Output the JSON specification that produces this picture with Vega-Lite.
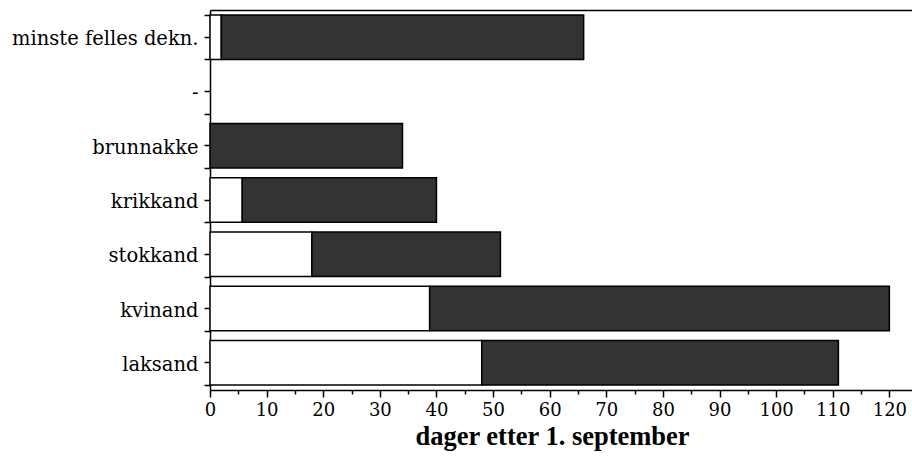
{
  "$schema": "https://vega.github.io/schema/vega-lite/v6.json",
  "autosize": "none",
  "width": 702,
  "height": 380,
  "padding": {"left": 210, "top": 10, "right": 0, "bottom": 69},
  "background": "white",
  "config": {
    "view": {"stroke": null},
    "font": "Liberation Serif",
    "axis": {"domainColor": "black", "tickColor": "black", "labelColor": "black", "titleColor": "black", "grid": false, "labelFont": "Liberation Serif", "titleFont": "Liberation Serif", "domainWidth": 1.5, "tickWidth": 1.5}
  },
  "data": {
    "values": [
      {"art": "minste felles dekn.", "start": 0, "end": 2, "type": "white"},
      {"art": "minste felles dekn.", "start": 2, "end": 66, "type": "hatched"},
      {"art": "brunnakke", "start": 0, "end": 34, "type": "hatched"},
      {"art": "krikkand", "start": 0, "end": 5.7, "type": "white"},
      {"art": "krikkand", "start": 5.7, "end": 40, "type": "hatched"},
      {"art": "stokkand", "start": 0, "end": 18, "type": "white"},
      {"art": "stokkand", "start": 18, "end": 51.3, "type": "hatched"},
      {"art": "kvinand", "start": 0, "end": 38.8, "type": "white"},
      {"art": "kvinand", "start": 38.8, "end": 120, "type": "hatched"},
      {"art": "laksand", "start": 0, "end": 48, "type": "white"},
      {"art": "laksand", "start": 48, "end": 111, "type": "hatched"}
    ]
  },
  "layer": [
    {
      "transform": [{"filter": "datum.type === 'white'"}],
      "mark": {"type": "bar", "fill": "white", "stroke": "black", "strokeWidth": 1.5},
      "encoding": {
        "x": {
          "field": "start", "type": "quantitative",
          "scale": {"domain": [0, 124], "nice": false, "zero": true},
          "axis": {
            "orient": "bottom",
            "title": "dager etter 1. september",
            "titleFontSize": 26.5, "titleFontWeight": "bold", "titlePadding": 4, "titleX": 342,
            "values": [0,5,10,15,20,25,30,35,40,45,50,55,60,65,70,75,80,85,90,95,100,105,110,115,120],
            "labelExpr": "datum.value % 10 === 0 ? datum.label : ''",
            "labelFont": "DejaVu Serif", "labelFontSize": 18, "labelPadding": 4,
            "tickSize": {"condition": {"test": "datum.value % 10 === 0", "value": 7}, "value": 4},
            "labelFlush": false
          }
        },
        "x2": {"field": "end"},
        "y": {
          "field": "art", "type": "nominal",
          "scale": {"domain": ["minste felles dekn.", "-", "brunnakke", "krikkand", "stokkand", "kvinand", "laksand"], "paddingInner": 0.18, "paddingOuter": 0.09},
          "axis": {"title": null, "orient": "left", "labelFont": "DejaVu Serif", "labelFontSize": 19.5, "labelLimit": 300, "tickSize": 6, "labelPadding": 6, "labelBaseline": "middle", "labelOffset": 2}
        }
      }
    },
    {
      "transform": [{"filter": "datum.type === 'hatched'"}],
      "mark": {"type": "bar", "fill": "#333333", "stroke": "black", "strokeWidth": 1.5},
      "encoding": {
        "x": {
          "field": "start", "type": "quantitative",
          "axis": {"orient": "top", "title": null, "labels": false, "ticks": false}
        },
        "x2": {"field": "end"},
        "y": {
          "field": "art", "type": "nominal",
          "axis": {"orient": "left", "title": null, "labels": false, "tickBand": "extent", "tickSize": 6, "domain": false}
        }
      }
    }
  ],
  "resolve": {"axis": {"x": "independent", "y": "independent"}}
}
